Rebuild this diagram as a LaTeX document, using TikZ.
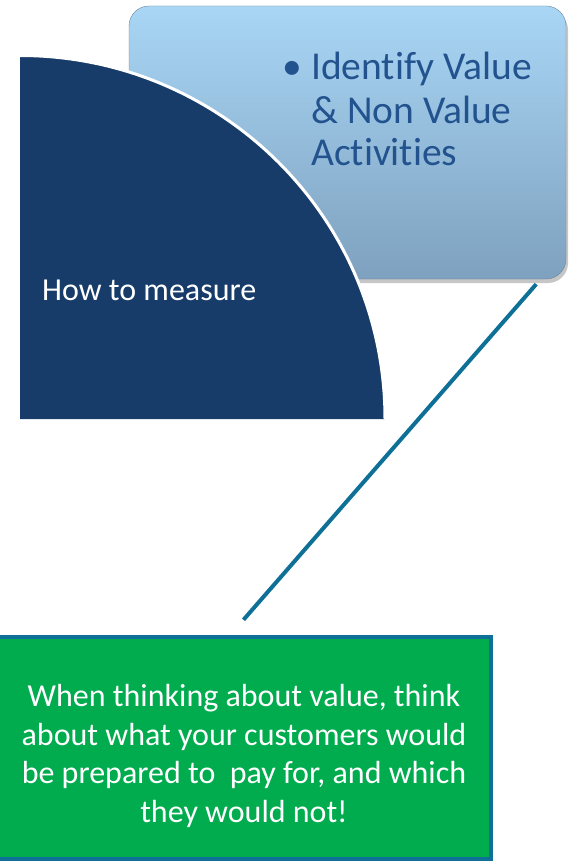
\documentclass[tikz,border=0pt]{standalone}
\usepackage{fontspec}
\setmainfont{Carlito}[Ligatures=NoCommon]
\usepackage{tikz}
\usetikzlibrary{shadows}
\usepackage{xcolor}
\definecolor{navy}{HTML}{173C69}
\definecolor{skytop}{HTML}{A9D6F5}
\definecolor{skybot}{HTML}{7EA1BF}
\definecolor{goalblue}{HTML}{23538F}
\definecolor{linkteal}{HTML}{0E7097}
\definecolor{tipgreen}{HTML}{00AC4E}

\begin{document}
\begin{tikzpicture}[x=1pt,y=-1pt,
  goalbox/.style={rounded corners=20pt,minimum width=437pt,minimum height=273pt,
    top color=skytop,bottom color=skybot,draw=skybot!85!black,line width=0.4pt,
    drop shadow={shadow xshift=2pt,shadow yshift=-4pt,opacity=0.45}},
  tipbox/.style={fill=tipgreen,draw=linkteal,line width=4.5pt,minimum width=495pt,minimum height=222pt}]

\useasboundingbox (0,0) rectangle (568,861);

\node[goalbox] (goal) at (347.5,142.5) {};

  \fill[navy] (20,419) -- (20,55.5) arc[start angle=-90,end angle=0,x radius=365,y radius=363.5] -- cycle;
  \draw[white,line width=3pt] (20,55.5) arc[start angle=-90,end angle=0,x radius=365,y radius=363.5];

\node[anchor=base west,inner sep=0pt,text=white,font=\fontsize{32}{38}\selectfont] (measure) at (42,300.5) {How to measure};
\node[anchor=base west,inner sep=0pt,align=left,text=goalblue,font=\fontsize{39.5}{43}\selectfont] (goaltext) at (311,166)
  {\llap{\textbullet\hspace{9pt}}Identify Value\\\& Non Value\\Activities};

\node[tipbox] (tip) at (243.5,748) {};
\node[align=center,text=white,font=\fontsize{32}{38.7}\selectfont] (tiptext) at (244,756)
  {When thinking about value, think\\about what your customers would\\be prepared to~ pay for, and which\\they would not!};

\coordinate (linetop) at ([shift={(-30,5)}]goal.south east);
\coordinate (linebot) at ([shift={(0,-15)}]tip.north);
\draw[linkteal,line width=4pt] (linetop) -- (linebot);

\end{tikzpicture}
\end{document}
